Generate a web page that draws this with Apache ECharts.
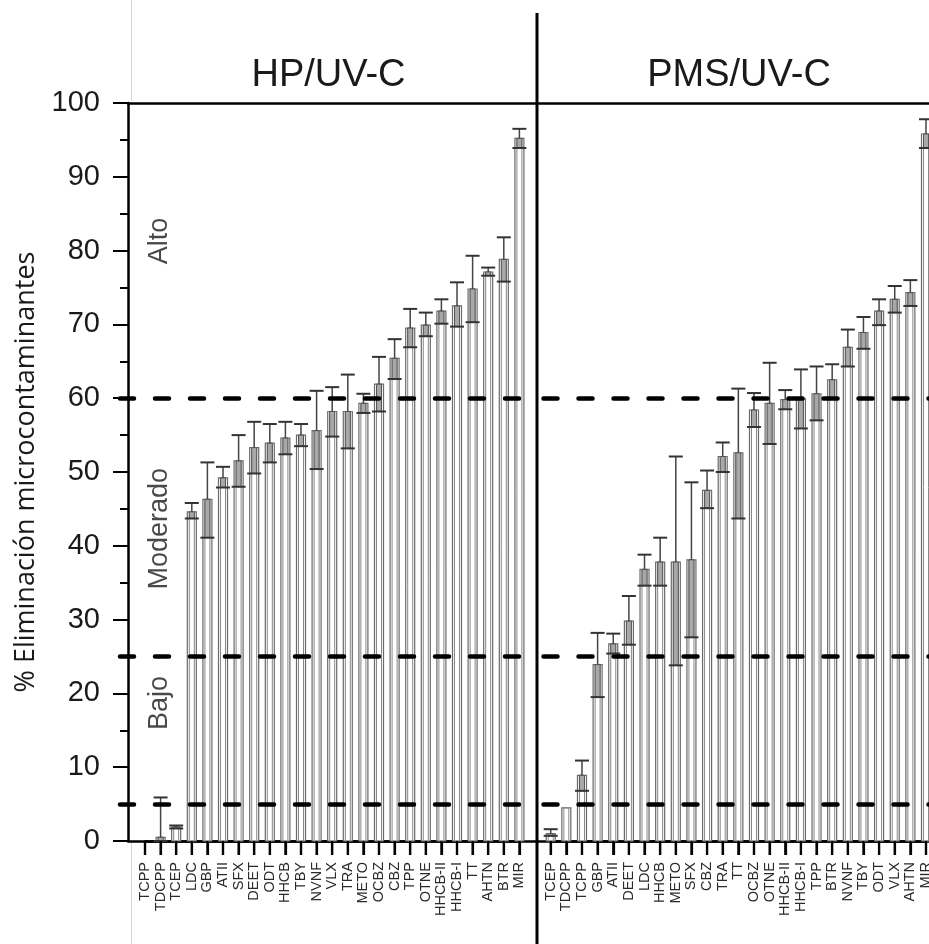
<!DOCTYPE html>
<html>
<head>
<meta charset="utf-8">
<script src="https://cdn.jsdelivr.net/npm/echarts@6/dist/echarts.min.js"></script>
<style>html,body{margin:0;padding:0;background:#fff}#main{width:929px;height:944px}</style>
</head>
<body>
<div id="main"></div>
<script>
// ---- data ----
const hpCats = ['TCPP','TDCPP','TCEP','LDC','GBP','ATII','SFX','DEET','ODT','HHCB','TBY','NVNF','VLX','TRA','METO','OCBZ','CBZ','TPP','OTNE','HHCB-II','HHCB-I','TT','AHTN','BTR','MIR'];
const hpMean = [0, 0.5, 1.9, 44.6, 46.3, 49.2, 51.5, 53.3, 53.9, 54.6, 55.0, 55.6, 58.2, 58.2, 59.3, 61.9, 65.4, 69.5, 69.9, 71.8, 72.5, 74.8, 77.1, 78.8, 95.2];
const hpLow  = [0, 0, 1.7, 43.7, 41.1, 47.9, 48.0, 49.8, 51.3, 52.4, 53.5, 50.4, 54.8, 53.2, 58.0, 58.2, 62.6, 66.9, 68.4, 70.1, 69.7, 70.3, 76.6, 75.8, 93.9];
const hpHigh = [0, 5.9, 2.1, 45.8, 51.3, 50.7, 55.0, 56.8, 56.5, 56.8, 56.5, 61.0, 61.5, 63.2, 60.6, 65.6, 68.0, 72.1, 71.6, 73.4, 75.7, 79.3, 77.7, 81.8, 96.5];

const pmsCats = ['TCEP','TDCPP','TCPP','GBP','ATII','DEET','LDC','HHCB','METO','SFX','CBZ','TRA','TT','OCBZ','OTNE','HHCB-II','HHCB-I','TPP','BTR','NVNF','TBY','ODT','VLX','AHTN','MIR'];
const pmsMean = [1.0, 4.5, 8.9, 23.9, 26.7, 29.8, 36.8, 37.8, 37.8, 38.1, 47.5, 52.1, 52.6, 58.4, 59.3, 59.8, 59.9, 60.6, 62.5, 66.9, 68.9, 71.8, 73.4, 74.3, 95.8];
const pmsLow  = [0.7, 4.5, 6.8, 19.5, 25.4, 26.6, 34.6, 34.6, 23.8, 27.6, 45.1, 50.0, 43.7, 56.1, 53.8, 58.5, 55.9, 57.0, 60.0, 64.3, 66.7, 69.9, 71.6, 72.5, 93.9];
const pmsHigh = [1.6, 4.5, 10.9, 28.2, 28.1, 33.2, 38.8, 41.1, 52.1, 48.6, 50.2, 54.0, 61.3, 60.7, 64.8, 61.1, 63.9, 64.3, 64.6, 69.3, 71.0, 73.4, 75.2, 76.0, 97.8];

const thresholds = [5, 25, 60];
const regionLabels = ['Alto', 'Moderado', 'Bajo'];
const regionY = [81.3, 42.3, 18.7];
const panelTitles = ['HP/UV-C', 'PMS/UV-C'];
const yTitle = '% Eliminación microcontaminantes';

// ---- rendering ----
const chart = echarts.init(document.getElementById('main'));
const TXT = '#1a1a1a';

function renderBar(params, api) {
  const i = api.value(0), v = api.value(1), lo = api.value(2), hi = api.value(3);
  const p0 = api.coord([i, 0]);
  const pv = api.coord([i, v]);
  const plo = api.coord([i, lo]);
  const phi = api.coord([i, hi]);
  const cx = p0[0];
  const bw = 9, iw = 5, cap = 14;
  const ch = [];
  if (v > 0) {
    ch.push({type:'rect', shape:{x:cx-bw/2, y:pv[1], width:bw, height:p0[1]-pv[1]},
      style:{fill:'#fff', stroke:'#6a6a6a', lineWidth:1.2}});
    ch.push({type:'rect', shape:{x:cx-iw/2, y:pv[1], width:iw, height:p0[1]-pv[1]},
      style:{fill:'none', stroke:'#888', lineWidth:1}});
  }
  if (lo < v) {
    ch.push({type:'rect', shape:{x:cx-iw/2, y:pv[1], width:iw, height:plo[1]-pv[1]},
      style:{fill:'#a8a8a8', stroke:'#555', lineWidth:1}});
    ch.push({type:'line', shape:{x1:cx-cap/2, y1:plo[1], x2:cx+cap/2, y2:plo[1]},
      style:{stroke:'#333', lineWidth:2}});
  }
  if (hi > v) {
    ch.push({type:'line', shape:{x1:cx, y1:pv[1], x2:cx, y2:phi[1]},
      style:{stroke:'#444', lineWidth:1.5}});
    ch.push({type:'line', shape:{x1:cx-cap/2, y1:phi[1], x2:cx+cap/2, y2:phi[1]},
      style:{stroke:'#333', lineWidth:2}});
  }
  return {type:'group', children: ch};
}

// tick marks in a thin strip grid right under the axis (0 = axis, 1 = tick end)
function renderTick(params, api) {
  const a = api.coord([api.value(0), 0]);
  const b = api.coord([api.value(0), 1]);
  return {type:'rect', shape:{x:a[0]-1.1, y:Math.min(a[1], b[1]), width:2.2, height:Math.abs(b[1]-a[1])},
    style:{fill:'#000'}};
}

const frameLine = {show:true, onZero:false, lineStyle:{color:'#000', width:2.5}};
const hiddenX = (g, max) => ({gridIndex:g, type:'value', min:0, max:max, show:false});
const hiddenY = (g, max, inv) => ({gridIndex:g, type:'value', min:0, max:max, inverse:!!inv, show:false});
const frameX = (g, pos) => ({gridIndex:g, type:'value', position:pos, min:0, max:1,
  axisLine:frameLine, axisTick:{show:false}, axisLabel:{show:false}, splitLine:{show:false}});
// index axis: one rotated label per compound, counted from min 0
const idxX = (g, cats) => ({gridIndex:g, type:'value', min:0, max:cats.length - 1, interval:1,
  axisLine:{show:true, onZero:false, lineStyle:{color:'#000', width:2.5}},
  axisTick:{show:true, length:14, lineStyle:{color:'#000', width:2.2}},
  axisLabel:{rotate:90, fontSize:14.5, color:'#2a2a2a', margin:21, fontFamily:'Liberation Sans',
    showMinLabel:true, showMaxLabel:true, hideOverlap:false,
    formatter:(v) => (cats[Math.round(v)] !== undefined ? cats[Math.round(v)] : '')},
  splitLine:{show:false}});
const dashStyle = (offset) => ({color:'#000', width:4.5, type:[14,21], cap:'round', dashOffset:offset});
const grid = (l, w, t, h) => ({left:l, width:w, top:t, height:h, outerBoundsMode:'none', containLabel:false});

const option = {
  animation:false,
  backgroundColor:'#fff',
  title: [
    {text:panelTitles[0], left:323.5, top:52, textAlign:'center',
     textStyle:{fontFamily:'Liberation Sans', fontSize:38, fontWeight:'normal', color:TXT}},
    {text:panelTitles[1], left:734, top:52, textAlign:'center',
     textStyle:{fontFamily:'Liberation Sans', fontSize:38, fontWeight:'normal', color:TXT}}
  ],
  grid: [
    grid(128, 409, 103, 738),    // 0 frame left
    grid(537, 392, 103, 738),    // 1 frame right
    grid(145, 374.4, 103, 738),  // 2 bars left
    grid(550.7, 375.3, 103, 738),// 3 bars right
    grid(120, 417, 103, 738),    // 4 dashes left
    grid(543.5, 386, 103, 738),  // 5 dashes right
    grid(145, 374.4, 841, 14),   // 6 tick strip left
    grid(550.7, 375.3, 841, 14)  // 7 tick strip right
  ],
  xAxis: [
    frameX(0, 'bottom'), frameX(0, 'top'),
    frameX(1, 'bottom'), frameX(1, 'top'),
    idxX(2, hpCats), idxX(3, pmsCats),
    hiddenX(4, 1), hiddenX(5, 1),
    hiddenX(6, hpCats.length - 1), hiddenX(7, pmsCats.length - 1)
  ],
  yAxis: [
    {gridIndex:0, type:'value', min:0, max:100, interval:10,
     axisLine:{show:true, onZero:false, lineStyle:{color:'#000', width:2.5}},
     axisTick:{show:true, length:15, lineStyle:{color:'#000', width:2}},
     minorTick:{show:true, splitNumber:2, length:8, lineStyle:{color:'#000', width:2}},
     axisLabel:{fontSize:29, color:TXT, margin:28, fontFamily:'Liberation Sans'},
     splitLine:{show:false}, minorSplitLine:{show:false},
     name:yTitle, nameLocation:'middle', nameGap:88,
     nameTextStyle:{fontSize:27, fontFamily:'Open Sans', color:TXT}},
    hiddenY(1, 100), hiddenY(2, 100), hiddenY(3, 100), hiddenY(4, 100), hiddenY(5, 100),
    hiddenY(6, 1, true), hiddenY(7, 1, true)
  ],
  series: [
    {type:'custom', name:'HP/UV-C', xAxisIndex:4, yAxisIndex:2, z:2,
     renderItem: renderBar, encode:{x:0, y:1}, clip:false,
     data: hpCats.map((c, i) => [i, hpMean[i], hpLow[i], hpHigh[i]])},
    {type:'custom', name:'PMS/UV-C', xAxisIndex:5, yAxisIndex:3, z:2,
     renderItem: renderBar, encode:{x:0, y:1}, clip:false,
     data: pmsCats.map((c, i) => [i, pmsMean[i], pmsLow[i], pmsHigh[i]])},
    {type:'line', xAxisIndex:6, yAxisIndex:4, data:[], z:5, silent:true,
     markLine:{silent:true, symbol:'none', label:{show:false}, lineStyle:dashStyle(0),
       data: thresholds.map(t => ({yAxis:t}))}},
    {type:'line', xAxisIndex:7, yAxisIndex:5, data:[], z:5, silent:true,
     markLine:{silent:true, symbol:'none', label:{show:false}, lineStyle:dashStyle(0),
       data: thresholds.map(t => ({yAxis:t}))}},
    {type:'scatter', xAxisIndex:0, yAxisIndex:0, symbolSize:0, z:6, silent:true,
     label:{show:true, position:'inside', rotate:90, formatter:'{b}', fontSize:27,
       fontFamily:'Liberation Sans', color:TXT},
     data: regionLabels.map((n, i) => ({name:n, value:[0.078, regionY[i]]}))},
    {type:'custom', name:'ticksL', xAxisIndex:8, yAxisIndex:6, z:20, zlevel:1, clip:false, silent:true,
     renderItem: renderTick, encode:{x:0, y:1},
     data: hpCats.map((c, i) => [i, 0])},
    {type:'custom', name:'ticksR', xAxisIndex:9, yAxisIndex:7, z:20, zlevel:1, clip:false, silent:true,
     renderItem: renderTick, encode:{x:0, y:1},
     data: pmsCats.map((c, i) => [i, 0])}
  ],
  graphic: [
    {type:'line', shape:{x1:131.5, y1:0, x2:131.5, y2:101}, style:{stroke:'#d6d6d6', lineWidth:1}},
    {type:'line', shape:{x1:131.5, y1:843, x2:131.5, y2:944}, style:{stroke:'#d6d6d6', lineWidth:1}},
    {type:'line', shape:{x1:537, y1:13, x2:537, y2:944}, style:{stroke:'#000', lineWidth:3}, z:100}
  ]
};
chart.setOption(option);
</script>
</body>
</html>
